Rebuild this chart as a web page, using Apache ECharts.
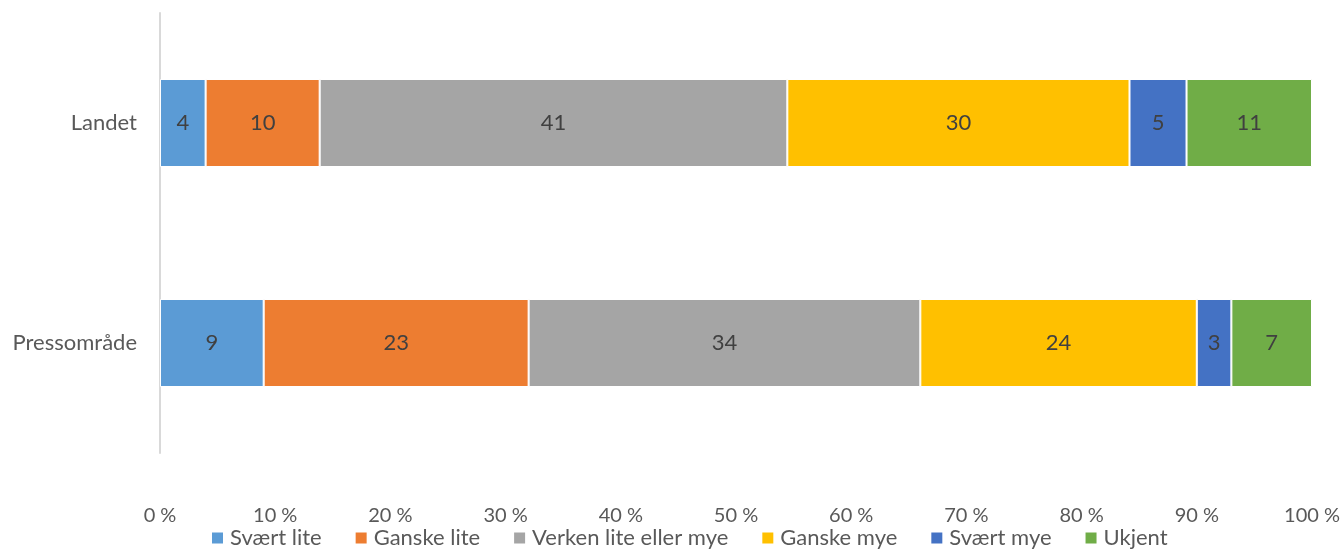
<!DOCTYPE html>
<html>
<head>
<meta charset="utf-8">
<script src="https://cdn.jsdelivr.net/npm/echarts@6/dist/echarts.min.js"></script>
<style>
  html, body { margin: 0; padding: 0; background: #fff; }
  #chart { width: 1343px; height: 549px; }
</style>
</head>
<body>
<div id="chart"></div>
<script>
// Response categories (series) and the two groups (rows)
const groups = ['Landet', 'Pressområde'];
const seriesNames = ['Svært lite', 'Ganske lite', 'Verken lite eller mye', 'Ganske mye', 'Svært mye', 'Ukjent'];
const seriesColors = ['#5B9BD5', '#ED7D31', '#A5A5A5', '#FFC000', '#4472C4', '#70AD47'];

// Values per response category, in order [Landet, Pressområde]
const svaertLite = [4, 9];
const ganskeLite = [10, 23];
const verken = [41, 34];
const ganskeMye = [30, 24];
const svaertMye = [5, 3];
const ukjent = [11, 7];

const xTicks = [0, 10, 20, 30, 40, 50, 60, 70, 80, 90, 100];

const seriesValues = [svaertLite, ganskeLite, verken, ganskeMye, svaertMye, ukjent];

// Each row is shown as a share of its own total (100 % stacked)
const rowTotals = groups.map((_, i) => seriesValues.reduce((s, arr) => s + arr[i], 0));

const font = 'Lato, Open Sans, sans-serif';

const chart = echarts.init(document.getElementById('chart'), null, { renderer: 'canvas' });

chart.setOption({
  animation: false,
  color: seriesColors,
  grid: { left: 160, right: 31, top: 13, bottom: 96, containLabel: false },
  legend: {
    top: 522,
    left: 205,
    itemWidth: 13,
    itemHeight: 13,
    itemGap: 32,
    icon: 'rect',
    textStyle: { color: '#595959', fontSize: 22, fontFamily: font, padding: [0, 0, 0, 1] },
    data: seriesNames
  },
  xAxis: {
    type: 'value',
    min: xTicks[0],
    max: xTicks[xTicks.length - 1],
    interval: xTicks[1] - xTicks[0],
    axisLine: { show: false },
    axisTick: { show: false },
    splitLine: { show: false },
    axisLabel: {
      margin: 53,
      color: '#595959',
      fontSize: 20,
      fontFamily: font,
      formatter: v => v + ' %'
    }
  },
  yAxis: {
    type: 'category',
    inverse: true,
    data: groups,
    axisLine: { show: true, lineStyle: { color: '#D9D9D9', width: 2 } },
    axisTick: { show: false },
    axisLabel: { margin: 23, color: '#595959', fontSize: 22, fontFamily: font }
  },
  series: seriesNames.map((name, k) => ({
    name: name,
    type: 'bar',
    stack: 'total',
    barWidth: 88,
    itemStyle: { borderColor: '#ffffff', borderWidth: 1 },
    label: {
      show: true,
      position: 'inside',
      color: '#404040',
      fontSize: 22,
      fontFamily: font,
      formatter: p => String(seriesValues[k][p.dataIndex])
    },
    data: seriesValues[k].map((v, i) => v / rowTotals[i] * 100)
  }))
});
</script>
</body>
</html>
